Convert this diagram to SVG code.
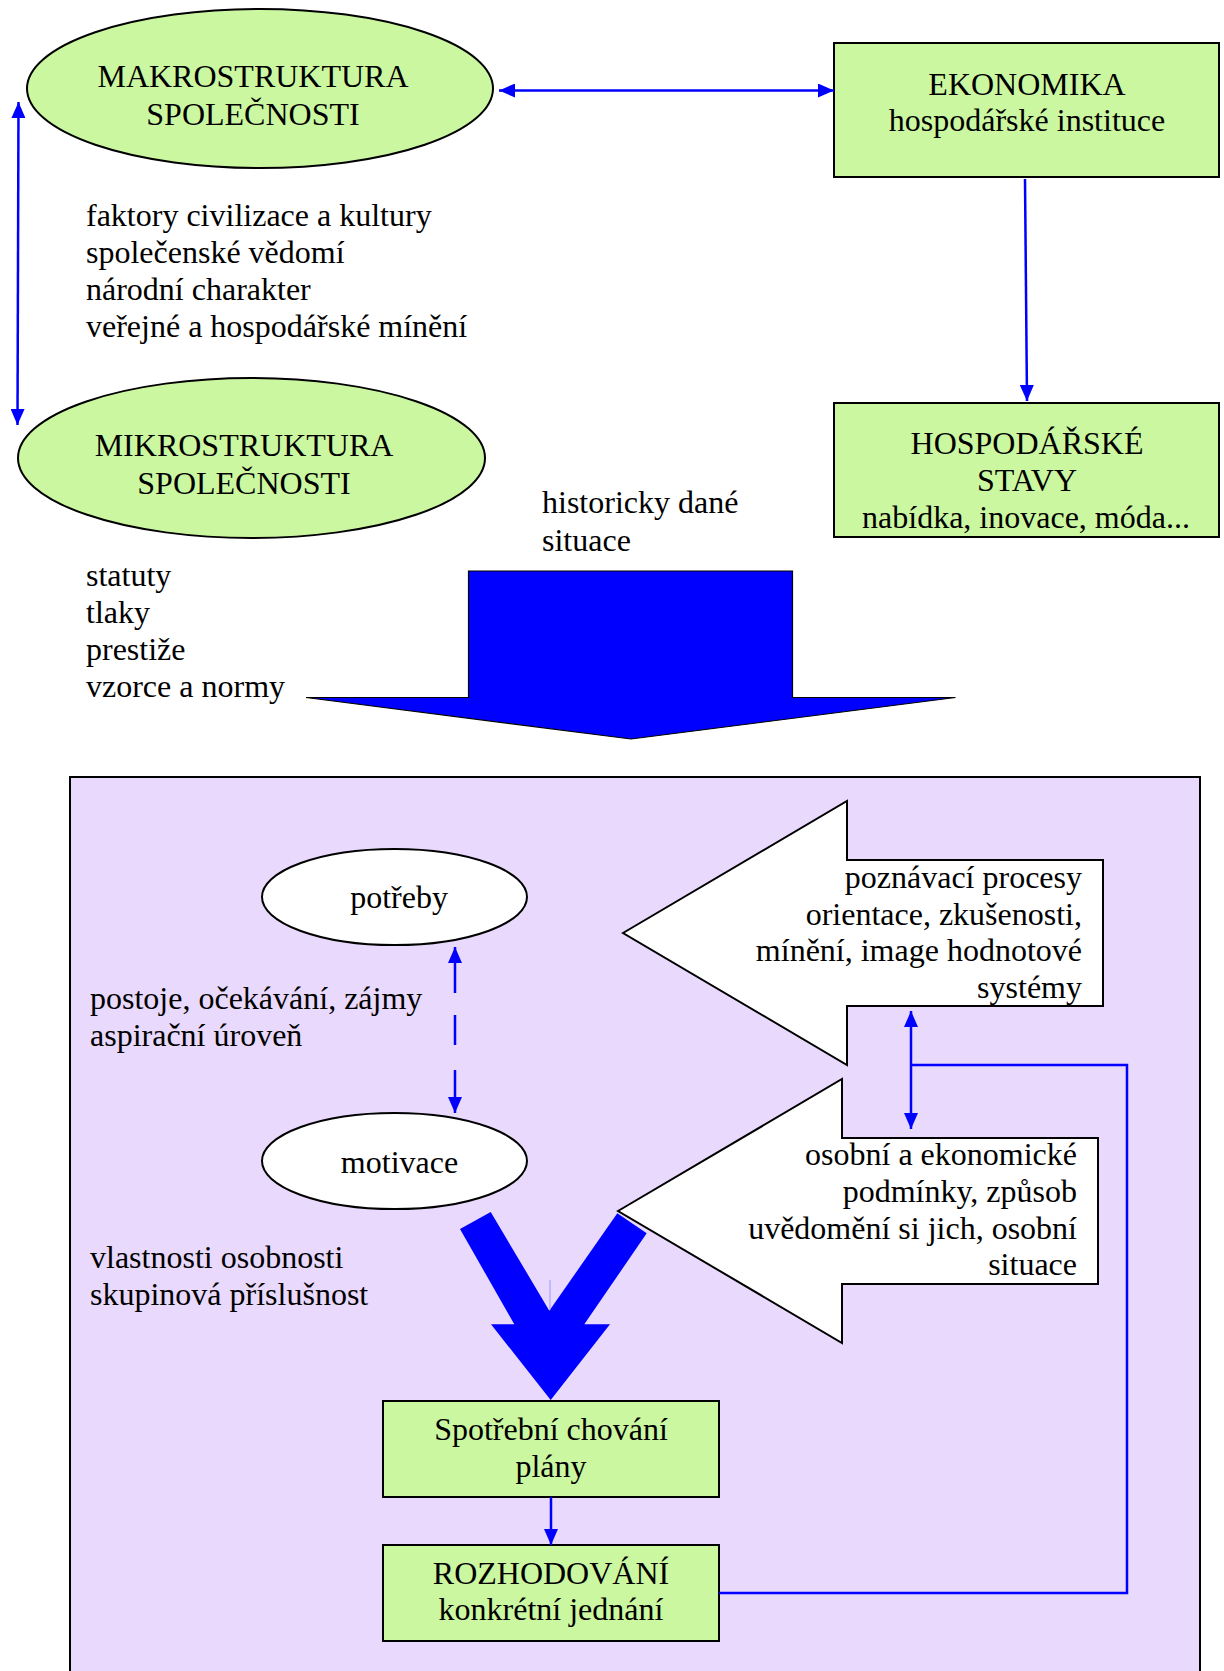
<svg xmlns="http://www.w3.org/2000/svg" width="1224" height="1671" viewBox="0 0 1224 1671">
<style>
text{font-family:"Liberation Serif","Times New Roman",serif;font-size:32px;fill:#000}
.c{text-anchor:middle}
.r{text-anchor:end}
.green{fill:#CCF7A1;stroke:#000;stroke-width:2}
.white{fill:#fff;stroke:#000;stroke-width:2}
.conn{fill:none;stroke:#0000FF;stroke-width:2.5}
</style>
<defs>
<marker id="ah" viewBox="0 0 16 14" refX="16" refY="7" markerWidth="16" markerHeight="14" markerUnits="userSpaceOnUse" orient="auto-start-reverse">
<path d="M0,0 L16,7 L0,14 z" fill="#0000FF"/>
</marker>
</defs>
<rect width="1224" height="1671" fill="#fff"/>

<g id="panel">
<rect x="70" y="777" width="1130" height="920" fill="#E9D9FD" stroke="#000" stroke-width="2"/>
</g>

<g id="makrostruktura">
<ellipse cx="260" cy="88.5" rx="233" ry="79.5" class="green"/>
<text x="253" y="87" class="c">MAKROSTRUKTURA</text>
<text x="253" y="125" class="c">SPOLEČNOSTI</text>
</g>

<g id="makro-factors">
<text x="86" y="226">faktory civilizace a kultury</text>
<text x="86" y="263">společenské vědomí</text>
<text x="86" y="300">národní charakter</text>
<text x="86" y="337">veřejné a hospodářské mínění</text>
</g>

<g id="mikrostruktura">
<ellipse cx="251.5" cy="458" rx="233.5" ry="80" class="green"/>
<text x="244" y="456" class="c">MIKROSTRUKTURA</text>
<text x="244" y="494" class="c">SPOLEČNOSTI</text>
</g>

<g id="ekonomika">
<rect x="834" y="43" width="385" height="134" class="green"/>
<text x="1027" y="95" class="c">EKONOMIKA</text>
<text x="1027" y="131" class="c">hospodářské instituce</text>
</g>

<g id="hospodarske-stavy">
<rect x="834" y="403" width="385" height="134" class="green"/>
<text x="1027" y="454" class="c">HOSPODÁŘSKÉ</text>
<text x="1027" y="491" class="c">STAVY</text>
<text x="1026" y="528" class="c">nabídka, inovace, móda...</text>
</g>

<g id="historicky">
<text x="542" y="513">historicky dané</text>
<text x="542" y="551">situace</text>
</g>

<g id="mikro-factors">
<text x="86" y="586">statuty</text>
<text x="86" y="623">tlaky</text>
<text x="86" y="660">prestiže</text>
<text x="86" y="697">vzorce a normy</text>
</g>

<g id="big-arrow">
<polygon points="468.5,571 792.5,571 792.5,697.5 955.5,697.5 631,739 306,697.5 468.5,697.5" fill="#0000FF" stroke="#000" stroke-width="1.2" stroke-linejoin="miter"/>
</g>

<g id="potreby">
<ellipse cx="394.5" cy="897" rx="132.5" ry="48" class="white"/>
<text x="399" y="908" class="c">potřeby</text>
</g>

<g id="motivace">
<ellipse cx="394.5" cy="1161" rx="132.5" ry="48" class="white"/>
<text x="399.5" y="1173" class="c">motivace</text>
</g>

<g id="postoje">
<text x="90" y="1009">postoje, očekávání, zájmy</text>
<text x="90" y="1046">aspirační úroveň</text>
</g>

<g id="vlastnosti">
<text x="90" y="1268">vlastnosti osobnosti</text>
<text x="90" y="1305">skupinová příslušnost</text>
</g>

<g id="poznavaci-procesy">
<polygon points="623,933 847,801 847,860 1103,860 1103,1006 847,1006 847,1065" class="white"/>
<text x="1082" y="888" class="r">poznávací procesy</text>
<text x="1082" y="925" class="r">orientace, zkušenosti,</text>
<text x="1082" y="961" class="r">mínění, image hodnotové</text>
<text x="1082" y="998" class="r">systémy</text>
</g>

<g id="osobni-podminky">
<polygon points="618,1211 842,1079 842,1138 1098,1138 1098,1284 842,1284 842,1343" class="white"/>
<text x="1077" y="1165" class="r">osobní a ekonomické</text>
<text x="1077" y="1202" class="r">podmínky, způsob</text>
<text x="1077" y="1239" class="r">uvědomění si jich, osobní</text>
<text x="1077" y="1275" class="r">situace</text>
</g>

<g id="v-arrow">
<polygon points="460,1229 490.7,1212 549.3,1310.7 617.3,1213.3 646.7,1233.3 584.3,1324.3 610,1324.3 550.7,1400 491,1324.3 514.3,1324.3" fill="#0000FF"/>
<line x1="550" y1="1280" x2="550" y2="1310" stroke="#9A9AFF" stroke-width="1"/>
</g>

<g id="spotrebni-chovani">
<rect x="383" y="1401" width="336" height="96" class="green"/>
<text x="551" y="1440" class="c">Spotřební chování</text>
<text x="551" y="1477" class="c">plány</text>
</g>

<g id="rozhodovani">
<rect x="383" y="1545" width="336" height="96" class="green"/>
<text x="551" y="1584" class="c">ROZHODOVÁNÍ</text>
<text x="551" y="1620" class="c">konkrétní jednání</text>
</g>

<g id="connectors">
<line x1="499" y1="90.5" x2="834" y2="90.5" class="conn" stroke-width="3" marker-start="url(#ah)" marker-end="url(#ah)"/>
<line x1="18.5" y1="102" x2="17.5" y2="425" class="conn" marker-start="url(#ah)" marker-end="url(#ah)"/>
<line x1="1025" y1="179" x2="1027" y2="401" class="conn" marker-end="url(#ah)"/>
<path d="M455,947 L455,993 M455,1015 L455,1045 M455,1070 L455,1113" class="conn" marker-start="url(#ah)" marker-end="url(#ah)"/>
<line x1="911" y1="1011" x2="911" y2="1129" class="conn" marker-start="url(#ah)" marker-end="url(#ah)"/>
<polyline points="911,1065 1127,1065 1127,1593 719,1593" class="conn"/>
<line x1="551" y1="1497" x2="551" y2="1545" class="conn" stroke-width="2" marker-end="url(#ah)"/>
</g>
</svg>
